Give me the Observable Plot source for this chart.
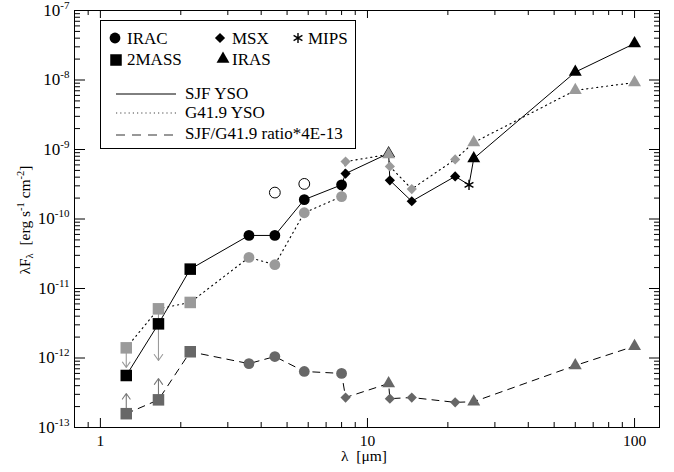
<!DOCTYPE html>
<html><head><meta charset="utf-8">
<script src="https://cdn.jsdelivr.net/npm/d3@7"></script>
<script src="https://cdn.jsdelivr.net/npm/@observablehq/plot@0.6"></script>
<style>body{margin:0;background:#fff} svg text, svg tspan {font-family: 'Liberation Serif';}</style>
</head><body><div id="chart"></div>
<script>
// ---- data ----
const lambda     = [1.25, 1.65, 2.17, 3.6, 4.5, 5.8, 8.0, 8.28, 12, 12.13, 14.65, 21.3, 24, 25, 60, 100];
const instrument = ["2MASS","2MASS","2MASS","IRAC","IRAC","IRAC","IRAC","MSX","IRAS","MSX","MSX","MSX","MIPS","IRAS","IRAS","IRAS"];
const sjfFlux    = [5.6e-13, 3.1e-12, 1.9e-11, 5.8e-11, 5.8e-11, 1.9e-10, 3.1e-10, 4.5e-10, 8.8e-10, 3.6e-10, 1.8e-10, 4.1e-10, 3.1e-10, 7.4e-10, 1.3e-8, 3.35e-8];
const g419Flux   = [1.4e-12, 5.1e-12, 6.3e-12, 2.8e-11, 2.2e-11, 1.23e-10, 2.1e-10, 6.7e-10, 8.5e-10, 5.7e-10, 2.7e-10, 7.2e-10, null, 1.26e-9, 7.1e-9, 9.2e-9];
const ratioFlux  = [1.58e-13, 2.5e-13, 1.23e-12, 8.3e-13, 1.05e-12, 6.4e-13, 6.0e-13, 2.7e-13, 4.3e-13, 2.6e-13, 2.7e-13, 2.3e-13, null, 2.35e-13, 7.8e-13, 1.48e-12];
const openLambda = [4.5, 5.8];
const openFlux   = [2.4e-10, 3.2e-10];
// limit arrows (upper limits on G41.9, lower limits on ratio)
const arrowLambda = [1.25, 1.65, 1.25, 1.65];
const arrowSeries = ["g", "g", "r", "r"];
const arrowTip    = [7.3e-13, 9.2e-13, 3.08e-13, 5.07e-13];
const seriesNames = ["SJF YSO", "G41.9 YSO", "SJF/G41.9 ratio*4E-13"];
const legendInstruments = ["IRAC", "MSX", "MIPS", "2MASS", "IRAS"];
const xTickValues = [1, 10, 100];
const yTickExponents = [-13, -12, -11, -10, -9, -8, -7];

// ---- layout ----
const W = 674, H = 472, mL = 74, mR = 15, mT = 10, mB = 45;
const pw = W - mL - mR, ph = H - mT - mB;
const font = "'Liberation Serif'";

const rows = lambda.map((l, i) => ({lambda: l, inst: instrument[i], sjf: sjfFlux[i], g: g419Flux[i], r: ratioFlux[i]}));
const seriesCols = {sjf: "#000000", g: "#9a9a9a", r: "#676767"};
const symStyle = {
  IRAC:   {symbol: "circle",   r: 5.4},
  "2MASS":{symbol: "square",   r: 6.5},
  MSX:    {symbol: "diamond2", r: 4.6},
  IRAS:   {symbol: "triangle", r: 4.8},
  MIPS:   {symbol: "asterisk", r: 4.8}
};

const yMajor = yTickExponents.map(e => Math.pow(10, e));
const yMinor = [];
for (const e of yTickExponents.slice(0, -1)) for (let k = 2; k <= 9; k++) yMinor.push(k * Math.pow(10, e));
const xMinor = [0.9];
for (const e of [0, 1]) for (let k = 2; k <= 9; k++) xMinor.push(k * Math.pow(10, e));

const arrows = arrowLambda.map((l, i) => {
  const row = rows.find(d => d.lambda === l);
  return {lambda: l, from: row[arrowSeries[i]], to: arrowTip[i], s: arrowSeries[i]};
});

const marks = [
  Plot.tickY(yMajor, {y: d => d, insetRight: pw - 11, stroke: "black"}),
  Plot.tickY(yMinor, {y: d => d, insetRight: pw - 6, stroke: "black"}),
  Plot.tickY(yMajor, {y: d => d, insetLeft: pw - 10, stroke: "black"}),
  Plot.tickY(yMinor, {y: d => d, insetLeft: pw - 5, stroke: "black"}),
  Plot.tickX(xTickValues, {x: d => d, insetTop: ph - 9, stroke: "black"}),
  Plot.tickX(xMinor, {x: d => d, insetTop: ph - 5, stroke: "black"}),
  Plot.tickX(xTickValues, {x: d => d, insetBottom: ph - 8, stroke: "black"}),
  Plot.tickX(xMinor, {x: d => d, insetBottom: ph - 5, stroke: "black"}),
  Plot.line(rows.filter(d => d.sjf != null), {x: "lambda", y: "sjf", stroke: "black", strokeWidth: 1}),
  Plot.line(rows.filter(d => d.g != null), {x: "lambda", y: "g", stroke: "black", strokeWidth: 1.1, strokeDasharray: "1.2,3.8"}),
  Plot.line(rows.filter(d => d.r != null), {x: "lambda", y: "r", stroke: "black", strokeWidth: 1, strokeDasharray: "7,6"}),
  Plot.arrow(arrows, {x: "lambda", y1: "from", y2: "to", stroke: d => d.s === "g" ? "#9a9a9a" : "#777777", headAngle: 70, headLength: 10, strokeWidth: 1.1})
];

for (const key of ["sjf", "g", "r"]) {
  for (const inst of Object.keys(symStyle)) {
    const data = rows.filter(d => d.inst === inst && d[key] != null);
    if (!data.length) continue;
    const st = symStyle[inst];
    const opts = {x: "lambda", y: key, symbol: st.symbol, r: st.r};
    if (st.symbol === "asterisk") Object.assign(opts, {stroke: seriesCols[key], strokeWidth: 1.4, fill: "none"});
    else Object.assign(opts, {fill: seriesCols[key], stroke: "none"});
    marks.push(Plot.dot(data, opts));
  }
}
marks.push(Plot.dot(openLambda.map((l, i) => ({lambda: l, v: openFlux[i]})), {x: "lambda", y: "v", r: 5.4, fill: "white", stroke: "black", strokeWidth: 1}));
marks.push(Plot.frame({stroke: "black"}));
marks.push(Plot.axisX(xTickValues, {tickSize: 0, tickPadding: 7, fontSize: 15.5, label: null, tickFormat: d => String(d)}));
marks.push(Plot.axisY(yMajor, {tickSize: 0, tickPadding: 5, fontSize: 17, label: null, tickFormat: d => "10^" + Math.round(Math.log10(d))}));

const chart = Plot.plot({
  width: W, height: H,
  marginLeft: mL, marginRight: mR, marginTop: mT, marginBottom: mB,
  x: {type: "log", domain: [0.8, 124]},
  y: {type: "log", domain: [1e-13, 1e-7]},
  style: {fontFamily: "Liberation Serif", fontSize: "16px", background: "white", color: "black"},
  marks
});
document.getElementById("chart").appendChild(chart);

chart.querySelectorAll('[aria-label="y-axis tick label"] text').forEach(t => {
  const m = t.textContent.match(/^10\^(-?\d+)$/);
  if (!m) return;
  t.textContent = "10";
  const sp = document.createElementNS("http://www.w3.org/2000/svg", "tspan");
  sp.setAttribute("dy", "-7");
  sp.setAttribute("font-size", "11");
  sp.textContent = m[1];
  t.appendChild(sp);
});

const svg = d3.select(chart);
svg.append("text").attr("x", 364).attr("y", 461).attr("text-anchor", "middle")
  .attr("font-size", 15.5).text("λ  [μm]");
const yl = svg.append("text").attr("transform", "translate(30,220) rotate(-90)").attr("text-anchor", "middle")
  .attr("font-size", 15.5);
yl.append("tspan").text("λF");
yl.append("tspan").attr("dy", 3).attr("font-size", 10.5).text("λ");
yl.append("tspan").attr("dy", -3).text("  [erg s");
yl.append("tspan").attr("dy", -6).attr("font-size", 10.5).text("-1");
yl.append("tspan").attr("dy", 6).text(" cm");
yl.append("tspan").attr("dy", -6).attr("font-size", 10.5).text("-2");
yl.append("tspan").attr("dy", 6).text("]");

const lg = svg.append("g").attr("font-size", 17).attr("text-anchor", "start");
lg.append("rect").attr("x", 100.5).attr("y", 20.5).attr("width", 255).attr("height", 128).attr("fill", "white").attr("stroke", "black");
const symMap = {circle: d3.symbolCircle, square: d3.symbolSquare, diamond2: d3.symbolDiamond2, triangle: d3.symbolTriangle, asterisk: d3.symbolAsterisk};
const legPos = [[115, 38, 127, 43.5], [220, 38, 232, 43.5], [298, 38, 308, 43.5], [116, 60, 127, 64.5], [223, 59, 232, 64.5]];
legendInstruments.forEach((inst, i) => {
  const [sx, sy, tx, ty] = legPos[i];
  const st = symStyle[inst];
  const p = lg.append("path").attr("transform", `translate(${sx},${sy})`)
    .attr("d", d3.symbol(symMap[st.symbol], Math.PI * st.r * st.r)());
  if (st.symbol === "asterisk") p.attr("fill", "none").attr("stroke", "black").attr("stroke-width", 1.4);
  else p.attr("fill", "black");
  lg.append("text").attr("x", tx).attr("y", ty).text(inst);
});
const legLines = [
  {y: 94, ty: 99, dash: null, stroke: "black", w: 1},
  {y: 113, ty: 118, dash: "1.2,3", stroke: "#444", w: 1.1},
  {y: 135, ty: 139, dash: "9,7", stroke: "#777", w: 1.3}
];
legLines.forEach((l, i) => {
  const ln = lg.append("line").attr("x1", 116).attr("x2", 176).attr("y1", l.y).attr("y2", l.y)
    .attr("stroke", l.stroke).attr("stroke-width", l.w);
  if (l.dash) ln.attr("stroke-dasharray", l.dash);
  lg.append("text").attr("x", 185).attr("y", l.ty).text(seriesNames[i]);
});
</script>
</body></html>
